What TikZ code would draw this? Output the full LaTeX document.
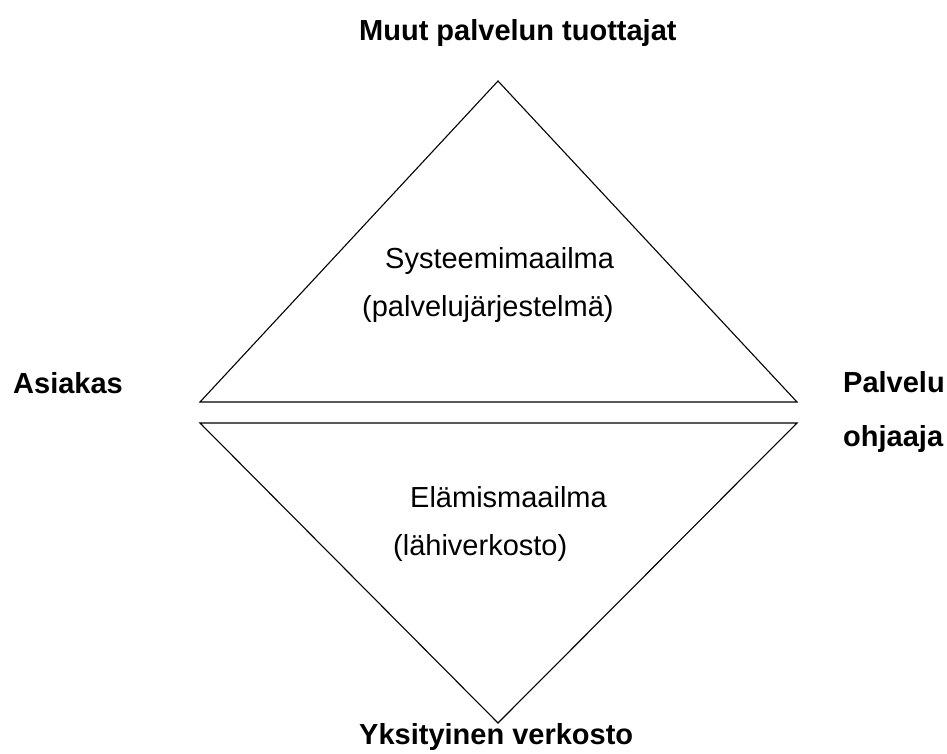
\documentclass[tikz,border=0pt]{standalone}
\usepackage{fontspec}
\setmainfont{Liberation Sans}
\begin{document}
\begin{tikzpicture}[x=1pt,y=-1pt,
  lbl/.style={anchor=base west,inner sep=0pt,font=\fontsize{29}{34}\selectfont\bfseries},
  inner/.style={anchor=base west,inner sep=0pt,font=\fontsize{29}{34}\selectfont},
  tri/.style={draw=black,line width=1.1pt,line join=miter}]
\useasboundingbox (0,0) rectangle (947,753);
\coordinate (ua) at (498,81);
\coordinate (ul) at (200,402);
\coordinate (ur) at (797,402);
\coordinate (ll) at (200,423);
\coordinate (lr) at (797,423);
\coordinate (la) at (498,723);
\draw[tri] (ul) -- (ua) -- (ur) -- cycle;
\draw[tri] (ll) -- (lr) -- (la) -- cycle;
\node[lbl] (top) at (359,40) {Muut palvelun tuottajat};
\node[lbl] (left) at (13,393) {Asiakas};
\node[lbl] (right1) at (843,392) {Palvelu};
\node[lbl] (right2) at (843,446) {ohjaaja};
\node[lbl] (bottom) at (359,744) {Yksityinen verkosto};
\node[inner] (sys1) at (385,268) {Systeemimaailma};
\node[inner] (sys2) at (362,316) {(palvelujärjestelmä)};
\node[inner] (ela1) at (410,507) {Elämismaailma};
\node[inner] (ela2) at (393,555) {(lähiverkosto)};
\end{tikzpicture}
\end{document}
